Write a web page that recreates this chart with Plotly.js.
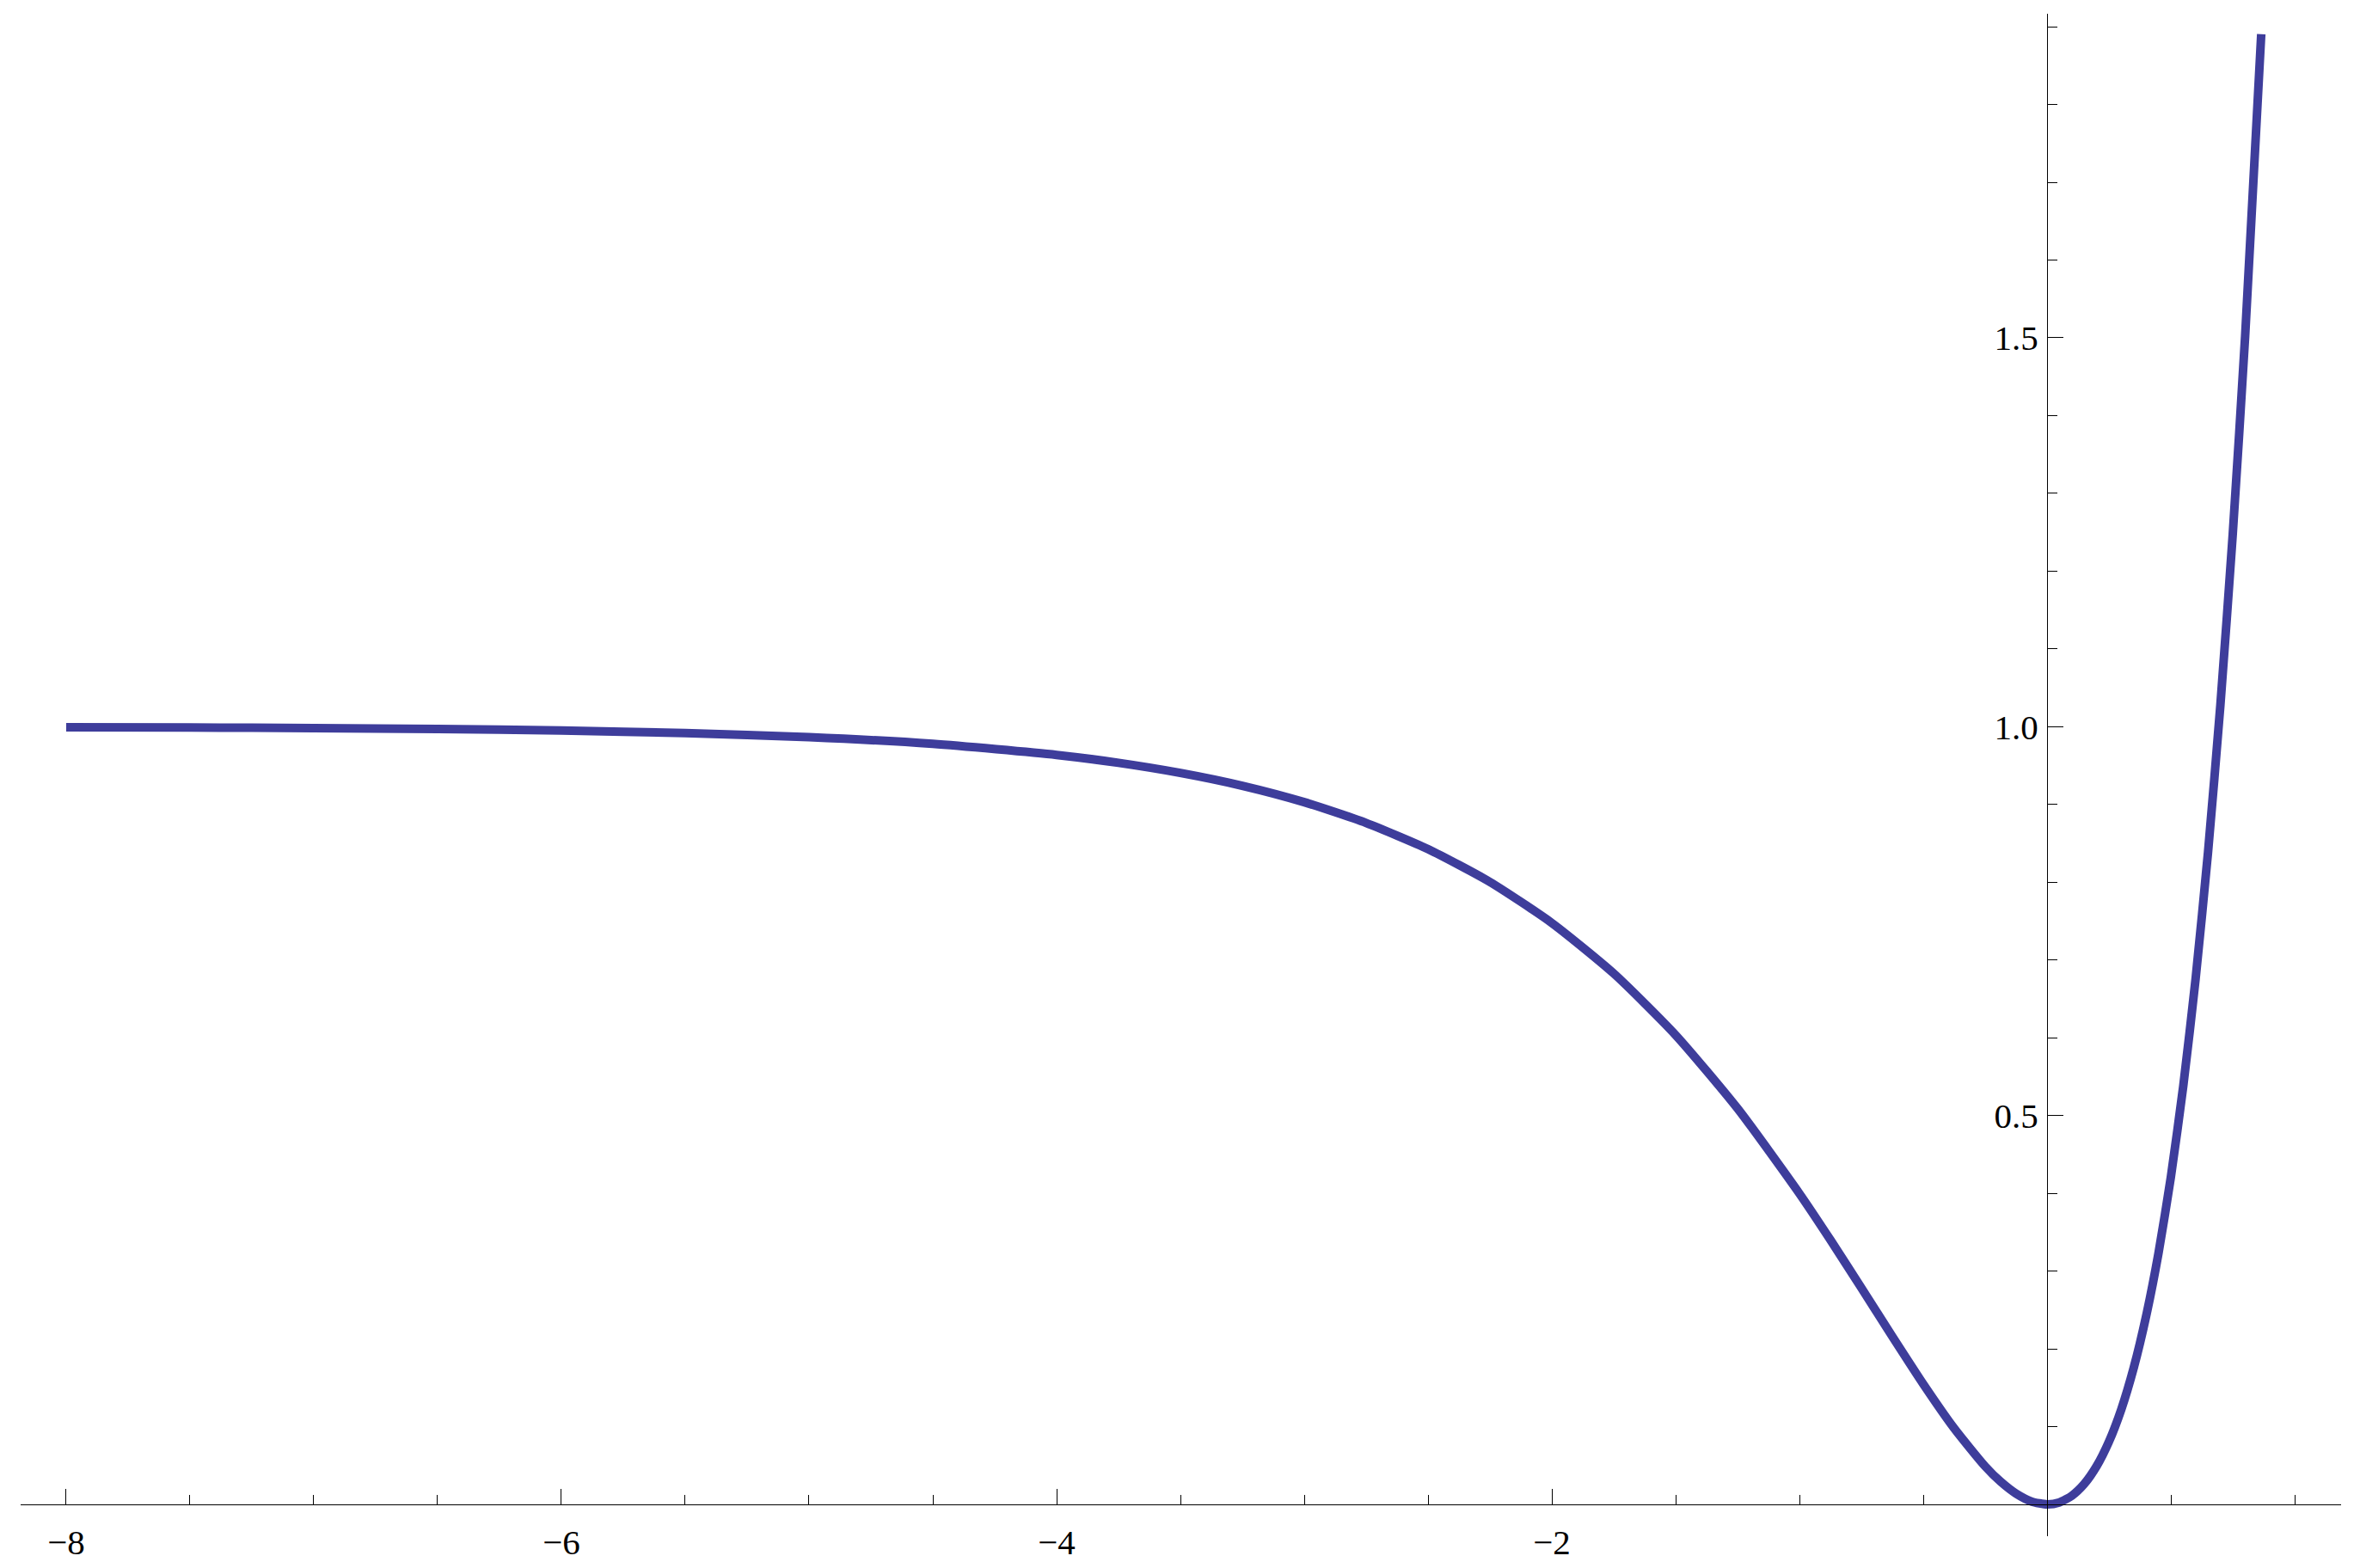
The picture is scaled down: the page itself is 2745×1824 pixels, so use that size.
<!DOCTYPE html>
<html>
<head>
<meta charset="utf-8">
<script src="https://cdn.plot.ly/plotly-3.0.1.min.js"></script>
<style>html,body{margin:0;padding:0;background:#fff;}#chart{width:2745px;height:1824px;}</style>
</head>
<body>
<div id="chart"></div>
<script>
// Values
const xValues = [-8, -7.5, -7, -6.5, -6, -5.5, -5, -4.5, -4, -3.75, -3.5, -3.25, -3, -2.75, -2.5, -2.25, -2, -1.75, -1.5, -1.25, -1, -0.875, -0.75, -0.625, -0.5, -0.375, -0.25, -0.1875, -0.125, -0.0625, 0, 0.05, 0.1, 0.15, 0.2, 0.25, 0.3, 0.35, 0.4, 0.45, 0.5, 0.55, 0.6, 0.65, 0.7, 0.75, 0.8, 0.865];
const yValues = [0.9993, 0.9989, 0.9982, 0.9970, 0.9951, 0.9918, 0.9866, 0.9779, 0.9637, 0.9535, 0.9405, 0.9240, 0.9029, 0.8762, 0.8426, 0.8003, 0.7476, 0.6827, 0.6035, 0.5091, 0.3996, 0.3401, 0.2784, 0.2160, 0.1548, 0.0978, 0.0489, 0.0292, 0.0138, 0.0037, 0, 0.0026, 0.0111, 0.0262, 0.0490, 0.0807, 0.1224, 0.1756, 0.2419, 0.3230, 0.4208, 0.5377, 0.6759, 0.8382, 1.0277, 1.2477, 1.5020, 1.8905];
const xTickVals = [-8, -6, -4, -2];
const xTickText = ['\u22128', '\u22126', '\u22124', '\u22122'];
const yTickVals = [0.5, 1.0, 1.5];
const yTickText = ['0.5', '1.0', '1.5'];

const trace = {
  x: xValues, y: yValues, type: 'scatter', mode: 'lines',
  line: {color: 'rgb(62,61,155)', width: 10, shape: 'spline', smoothing: 0.6},
  hoverinfo: 'skip', cliponaxis: false
};

const tickFont = {family: '"Liberation Serif", "Times New Roman", serif', size: 41, color: '#000'};

const layout = {
  width: 2745, height: 1824,
  margin: {l: 24, r: 22, t: 16, b: 37, pad: 0},
  paper_bgcolor: '#fff', plot_bgcolor: '#fff',
  showlegend: false,
  xaxis: {
    range: [-8.184, 1.1875], anchor: 'free', position: 0.0209,
    showline: true, linecolor: '#000', linewidth: 1,
    showgrid: false, zeroline: false,
    tickmode: 'array', tickvals: xTickVals, ticktext: xTickText,
    ticks: 'inside', ticklen: 18, tickwidth: 1, tickcolor: '#000',
    tickfont: tickFont, ticklabelstandoff: 8,
    minor: {tickmode: 'linear', tick0: 0, dtick: 0.5, ticks: 'inside', ticklen: 11, tickwidth: 1, tickcolor: '#000', showgrid: false}
  },
  yaxis: {
    range: [-0.0409, 1.9167], anchor: 'free', position: 0.8733,
    showline: true, linecolor: '#000', linewidth: 1,
    showgrid: false, zeroline: false,
    tickmode: 'array', tickvals: yTickVals, ticktext: yTickText,
    ticks: 'inside', ticklen: 18, tickwidth: 1, tickcolor: '#000',
    tickfont: tickFont, ticklabelstandoff: 2,
    minor: {tickmode: 'linear', tick0: 0, dtick: 0.1, ticks: 'inside', ticklen: 11, tickwidth: 1, tickcolor: '#000', showgrid: false}
  }
};

Plotly.newPlot('chart', [trace], layout, {staticPlot: true, displayModeBar: false});
</script>
</body>
</html>
